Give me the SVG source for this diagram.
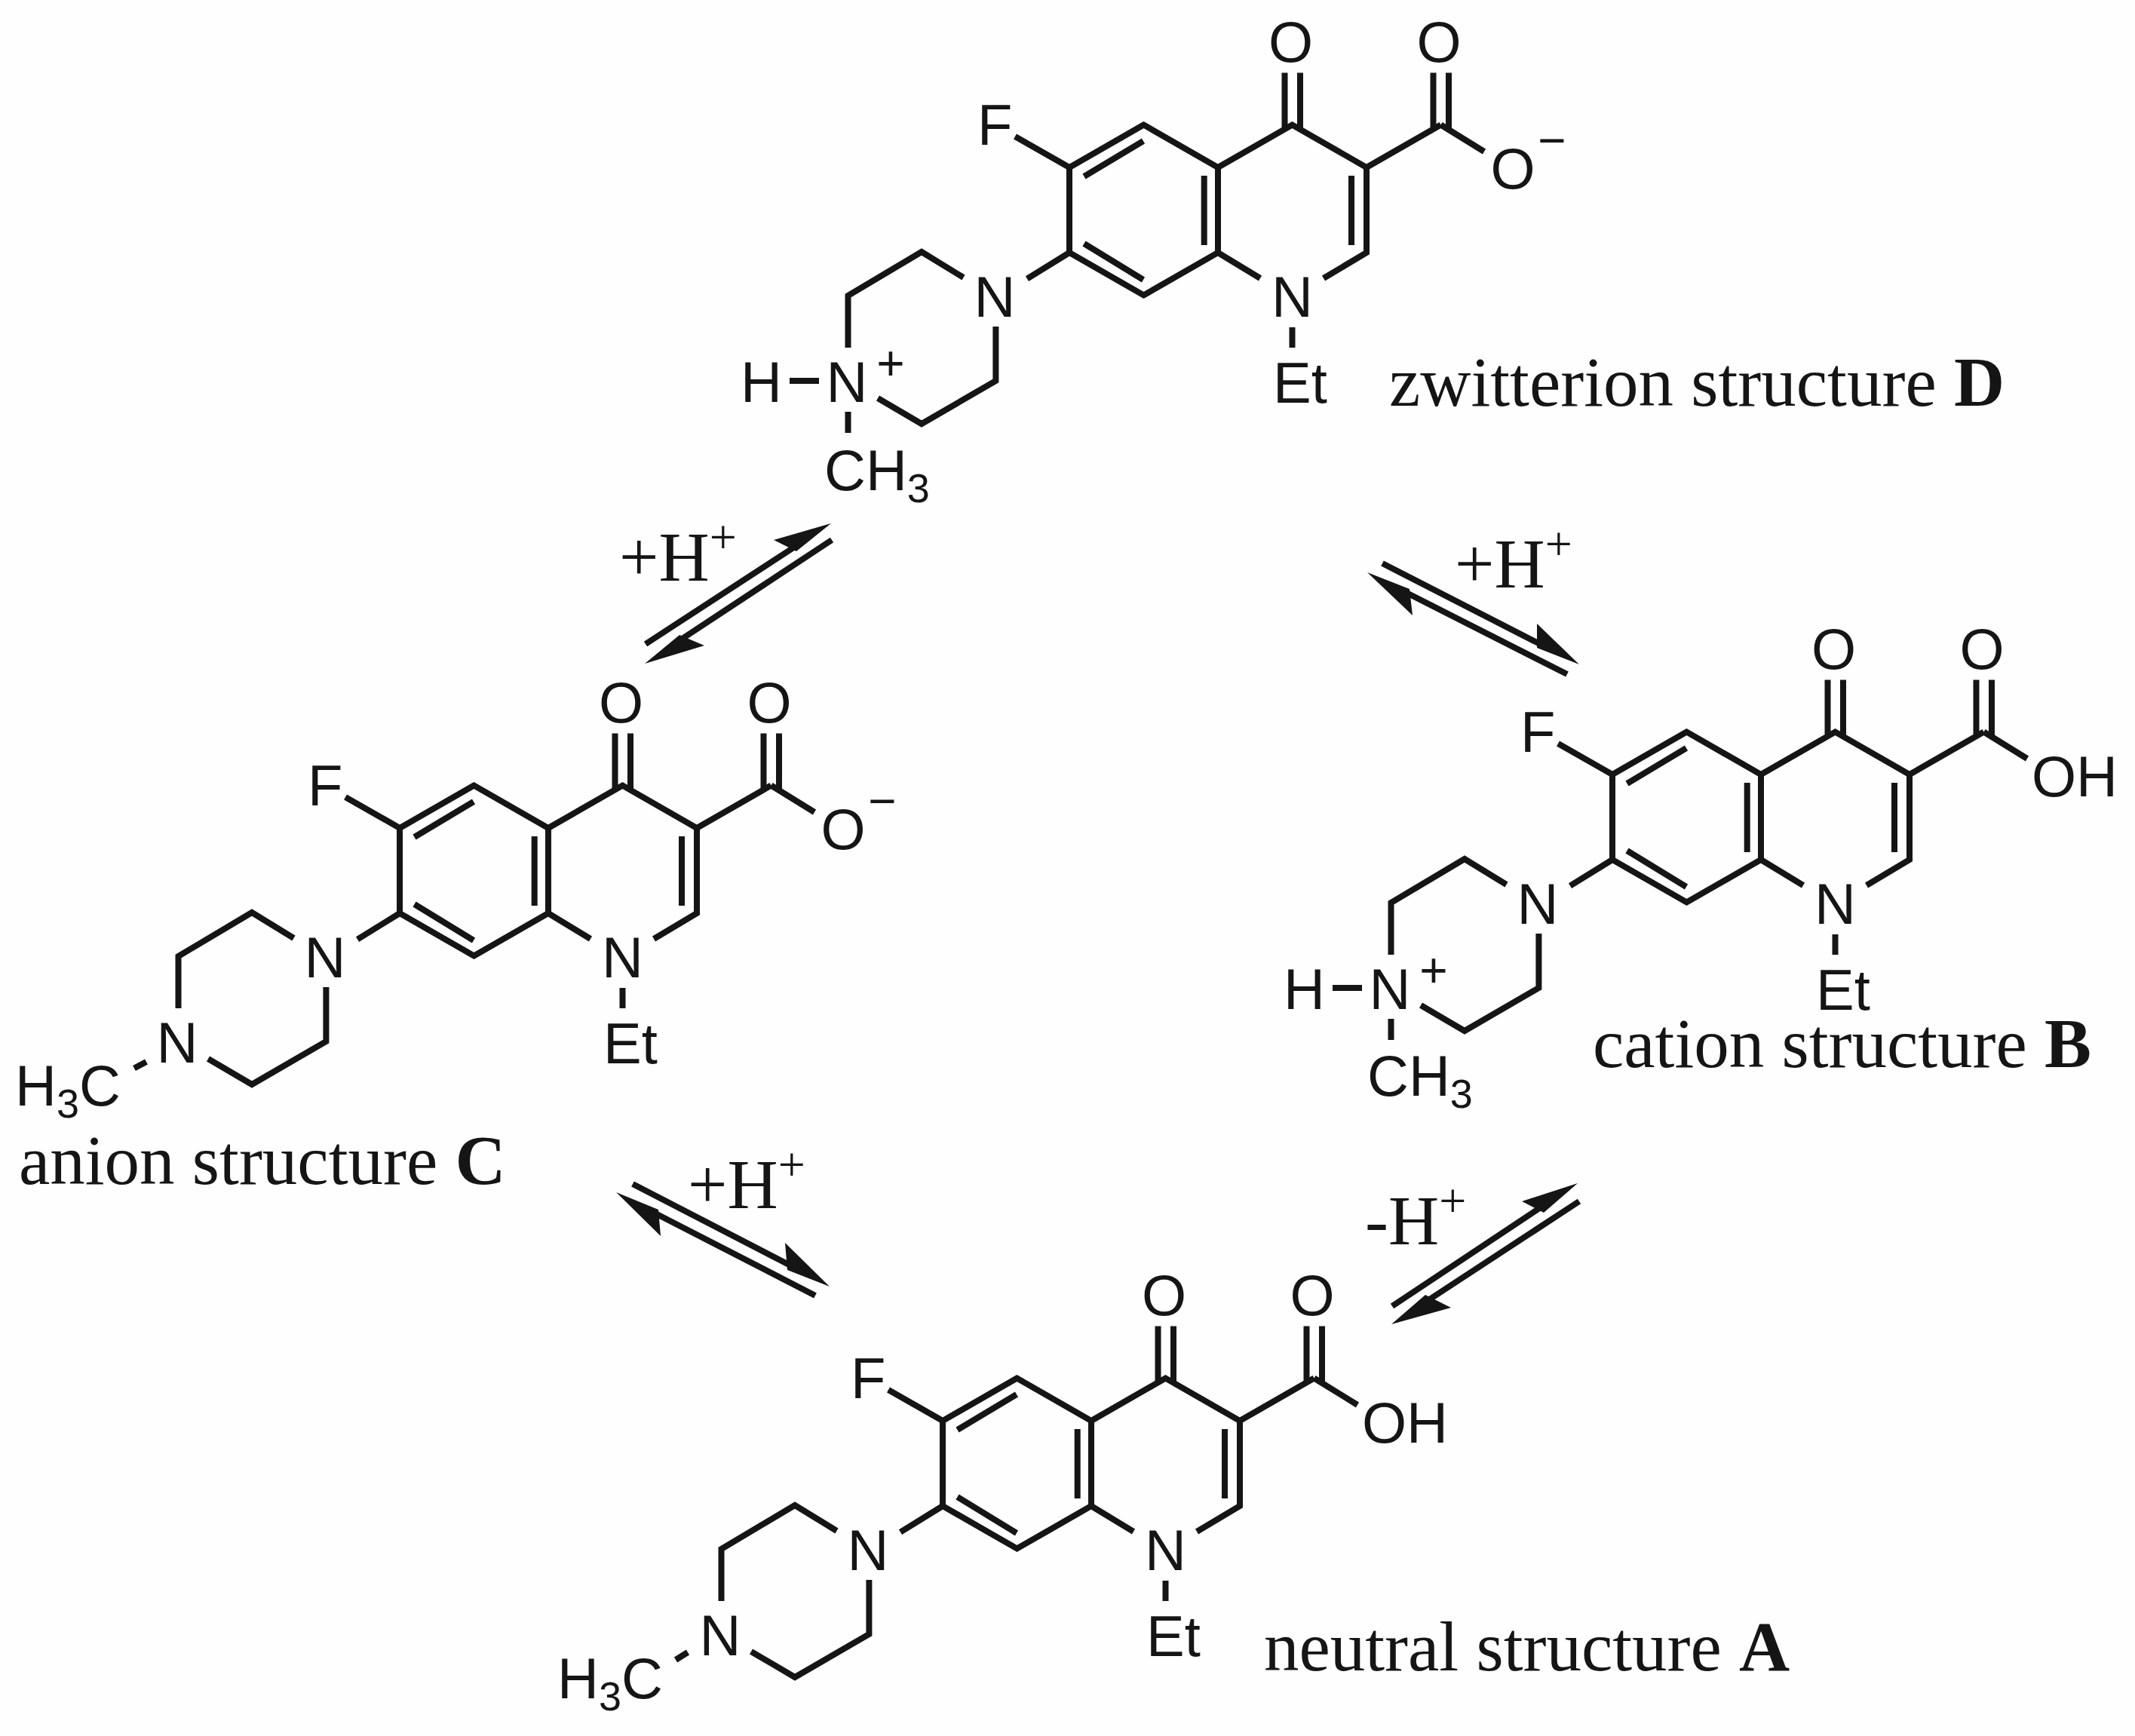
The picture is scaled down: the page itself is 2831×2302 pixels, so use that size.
<svg xmlns="http://www.w3.org/2000/svg" xmlns:xlink="http://www.w3.org/1999/xlink" width="2831" height="2302" viewBox="0 0 2831 2302">
<style>
.b{fill:none;stroke:#151515;stroke-width:8;stroke-linecap:butt;stroke-linejoin:miter}
.s{fill:none;stroke:#151515;stroke-width:8}
.h{fill:#151515;stroke:none}
.a{font-family:"Liberation Sans",Arial,sans-serif;font-size:76px;fill:#151515}
.m{text-anchor:middle}
.sub{font-size:54px}
.sup{font-size:64px}
.t{font-family:"Liberation Serif","Times New Roman",serif;font-size:93px;fill:#151515}
.bold{font-weight:bold}
</style>
<defs>
<path id="core" class="b" d="M98.5,-56.5L0,0L0,113L98.5,169.5L197,113L197,0ZM197,0L295.5,-56.5L394,0L394,113L337,147M197,113L253,147M19.5,12L98,-35M19.5,101L98,149M178.7,11V103M374,11V103M285.5,-125.6V-51M306,-125.6V-51M394,0L492.5,-56.5M482.5,-125.6V-51M503,-125.6V-51M492.5,-56.5L550,-21M295.5,212V239M0,0L-72,-41M0,113L-56,147.6M-140.5,146L-196,112L-293.5,170V239M-97.6,211V283L-196,340L-254,306"/>
</defs>
<rect width="2831" height="2302" fill="#fefefe"/>

<g id="node-D" transform="translate(1418,222)">
<use href="#core" xlink:href="#core"/>
<path class="b" d="M-371,283H-332"/>
<path class="b" d="M-293.5,324V352"/>
<text class="a" x="-122" y="-30">F</text>
<text class="a m" x="293.5" y="-140">O</text>
<text class="a m" x="490" y="-140">O</text>
<text class="a m" x="588" y="28">O</text>
<text class="a sup m" x="640" y="-14">−</text>
<text class="a m" x="295.5" y="198">N</text>
<text class="a" x="270" y="312">Et</text>
<text class="a m" x="-99" y="198">N</text>
<text class="a m" x="-295" y="311">N</text>
<text class="a sup m" x="-237" y="282">+</text>
<text class="a" x="-436" y="311">H</text>
<text class="a" x="-325" y="428">CH<tspan class="sub" dy="16">3</tspan></text>
<text class="t" x="424" y="316">zwitterion structure <tspan class="bold">D</tspan></text>
</g>

<g id="node-B" transform="translate(2138,1027)">
<use href="#core" xlink:href="#core"/>
<path class="b" d="M-371,283H-332"/>
<path class="b" d="M-293.5,324V352"/>
<text class="a" x="-122" y="-30">F</text>
<text class="a m" x="293.5" y="-140">O</text>
<text class="a m" x="490" y="-140">O</text>
<text class="a" x="556" y="29">OH</text>
<text class="a m" x="295.5" y="198">N</text>
<text class="a" x="270" y="312">Et</text>
<text class="a m" x="-99" y="198">N</text>
<text class="a m" x="-295" y="311">N</text>
<text class="a sup m" x="-237" y="282">+</text>
<text class="a" x="-436" y="311">H</text>
<text class="a" x="-325" y="426">CH<tspan class="sub" dy="16">3</tspan></text>
<text class="t" x="-26" y="388">cation structure <tspan class="bold">B</tspan></text>
</g>

<g id="node-C" transform="translate(530,1098)">
<use href="#core" xlink:href="#core"/>
<path class="b" d="M-336,310L-352,318.5"/>
<text class="a" x="-122" y="-30">F</text>
<text class="a m" x="293.5" y="-140">O</text>
<text class="a m" x="490" y="-140">O</text>
<text class="a m" x="588" y="28">O</text>
<text class="a sup m" x="640" y="-14">−</text>
<text class="a m" x="295.5" y="198">N</text>
<text class="a" x="270" y="312">Et</text>
<text class="a m" x="-99" y="198">N</text>
<text class="a m" x="-295" y="311">N</text>
<text class="a" x="-510" y="368">H<tspan class="sub" dy="16">3</tspan><tspan dy="-16">C</tspan></text>
<text class="t" x="-505" y="472">anion structure <tspan class="bold">C</tspan></text>
</g>

<g id="node-A" transform="translate(1250,1884)">
<use href="#core" xlink:href="#core"/>
<path class="b" d="M-338,307L-354,317"/>
<text class="a" x="-122" y="-30">F</text>
<text class="a m" x="293.5" y="-140">O</text>
<text class="a m" x="490" y="-140">O</text>
<text class="a" x="556" y="29">OH</text>
<text class="a m" x="295.5" y="198">N</text>
<text class="a" x="270" y="312">Et</text>
<text class="a m" x="-99" y="198">N</text>
<text class="a m" x="-295" y="311">N</text>
<text class="a" x="-511" y="368">H<tspan class="sub" dy="16">3</tspan><tspan dy="-16">C</tspan></text>
<text class="t" x="426" y="331">neutral structure <tspan class="bold">A</tspan></text>
</g>

<g id="connectors">
<g id="eq-C-D">
<path class="s" d="M856,854L1054,725M1103,716L903,848"/>
<path class="h" d="M1102,694L1026,716L1056,731ZM855,880L934,856L901,842Z"/>
<text class="t" x="821" y="770">+H<tspan class="sup" dy="-36">+</tspan></text>
</g>
<g id="eq-D-B">
<path class="s" d="M1833,747L2042,854M2078,894L1865,786"/>
<path class="h" d="M2094,881L2038,827L2038,859ZM1813,759L1873,816L1869,781Z"/>
<text class="t" x="1929" y="779">+H<tspan class="sup" dy="-36">+</tspan></text>
</g>
<g id="eq-C-A">
<path class="s" d="M839,1570L1048,1678M1081,1718L869,1609"/>
<path class="h" d="M1100,1706L1041,1648L1044,1684ZM817,1581L876,1639L873,1604Z"/>
<text class="t" x="912" y="1602">+H<tspan class="sup" dy="-36">+</tspan></text>
</g>
<g id="eq-A-B">
<path class="s" d="M1846,1732L2043,1601M2094,1593L1894,1724"/>
<path class="h" d="M2092,1569L2018,1593L2047,1608ZM1845,1756L1924,1734L1890,1717Z"/>
<text class="t" x="1810" y="1650">-H<tspan class="sup" dy="-36">+</tspan></text>
</g>
</g>
</svg>
